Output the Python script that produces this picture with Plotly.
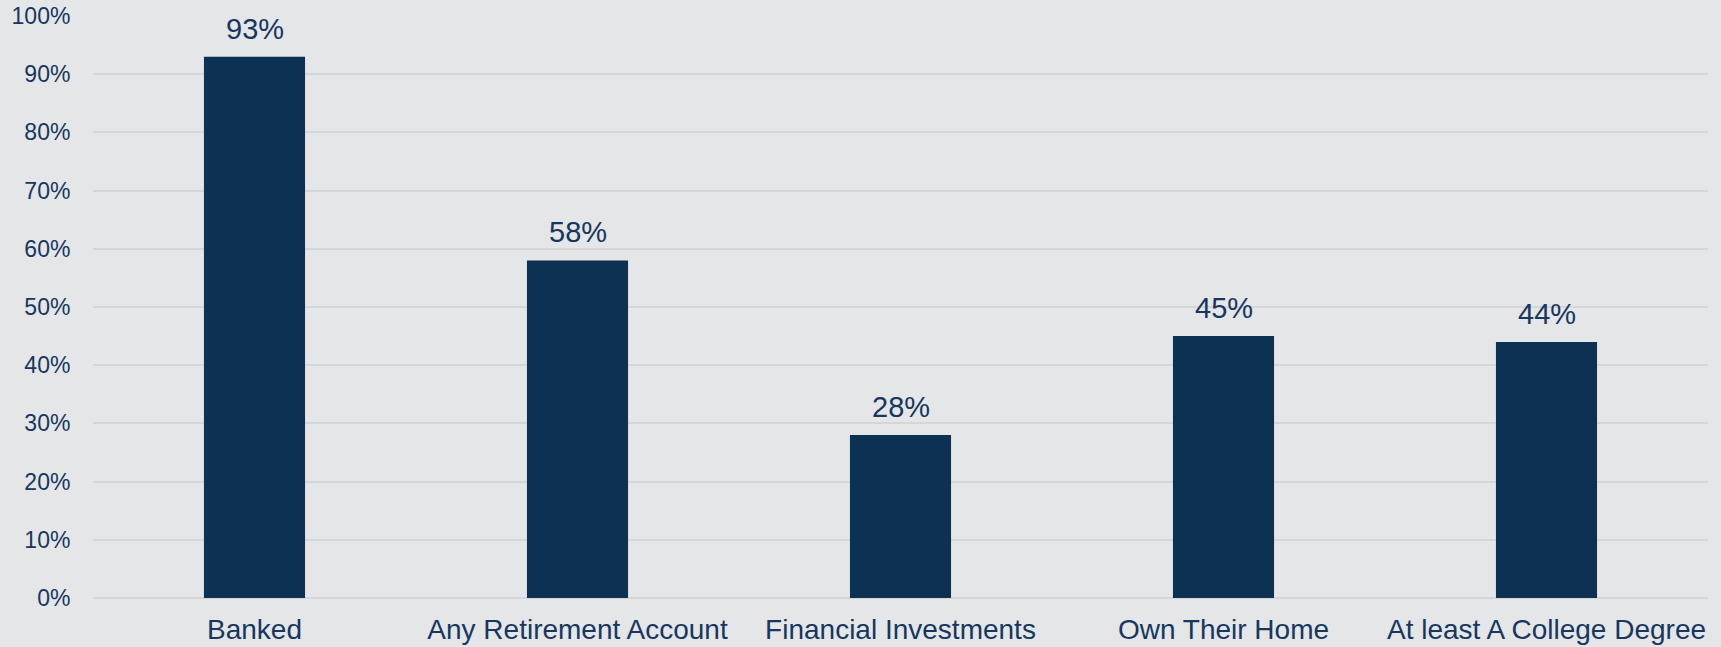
import plotly.graph_objects as go

categories = ["Banked", "Any Retirement Account", "Financial Investments",
              "Own Their Home", "At least A College Degree"]
values = [93, 58, 28, 45, 44]
labels = [f"{v}%" for v in values]
tick_vals = list(range(0, 101, 10))
tick_text = [f"{t}%" for t in tick_vals]

navy = "#0c3152"
text_col = "#17375e"
bg = "#e5e6e8"

fig = go.Figure()
fig.add_trace(go.Bar(x=categories, y=values, marker_color=navy,
                     marker_line_width=0, width=0.313))

# étiquettes de valeur au-dessus des barres
for c, v, t in zip(categories, values, labels):
    fig.add_annotation(x=c, y=v, text=t, showarrow=False, yanchor="bottom",
                       yshift=10, font=dict(size=29, color=text_col))

fig.update_layout(
    width=1721, height=647,
    paper_bgcolor=bg, plot_bgcolor=bg,
    font=dict(family="Liberation Sans, Arial", color=text_col),
    margin=dict(l=93, r=13, t=16, b=49),
    showlegend=False,
)
fig.update_xaxes(tickfont=dict(size=28, color=text_col), showgrid=False,
                 automargin=False,
                 ticks="outside", ticklen=6, tickcolor="rgba(0,0,0,0)")
fig.update_yaxes(range=[0, 100], tickvals=tick_vals, ticktext=tick_text,
                 tickfont=dict(size=23, color=text_col), gridcolor="#d5d6d8",
                 automargin=False,
                 gridwidth=2, zeroline=True, zerolinecolor="#d5d6d8", zerolinewidth=2,
                 ticks="outside", ticklen=17, tickcolor="rgba(0,0,0,0)")

fig.write_html("out.html", config={"displayModeBar": False},
               post_script="document.body.style.margin='0';")
